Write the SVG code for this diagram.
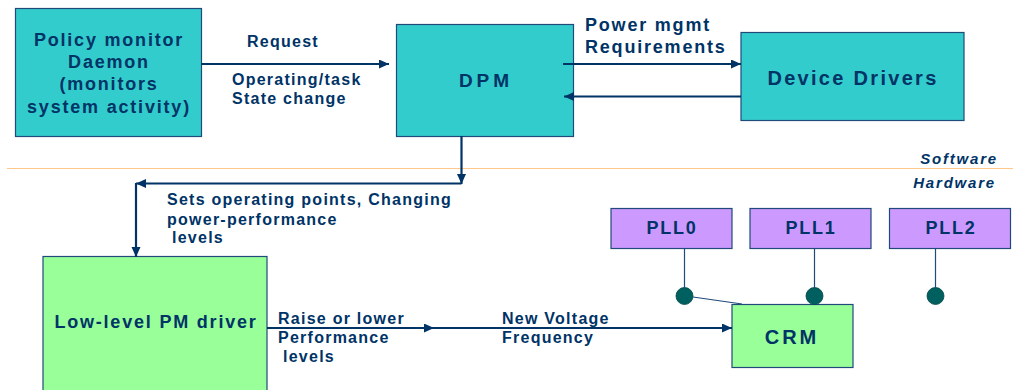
<svg xmlns="http://www.w3.org/2000/svg" width="1013" height="390" viewBox="0 0 1013 390">
<style>
text{font-family:"Liberation Sans",Arial,sans-serif;font-weight:bold;fill:#003366}
.lbl{font-size:16px;letter-spacing:1.25px}
.big{font-size:18px;letter-spacing:1.8px}
.c{text-anchor:middle}
.it{font-style:italic;font-size:15px;letter-spacing:1.8px;text-anchor:end}
.teal{fill:#33CCCC;stroke:#1F4A7A;stroke-width:1.2}
.green{fill:#99FF99;stroke:#1F4A7A;stroke-width:1.2}
.purple{fill:#CC99FF;stroke:#1F4A7A;stroke-width:1.2}
.arr{stroke:#003366;stroke-width:2.2;fill:none;marker-end:url(#ah)}
.thin{stroke:#1F4A7A;stroke-width:1.2;fill:none}
.dot{fill:#006060;stroke:#004848;stroke-width:0.8}
</style>
<defs>
<marker id="ah" markerUnits="userSpaceOnUse" markerWidth="11" markerHeight="10" refX="10" refY="4.5" orient="auto">
<path d="M0,0 L10,4.5 L0,9 z" fill="#003366"/>
</marker>
</defs>
<line x1="7" y1="168.5" x2="1013" y2="168.5" stroke="#FFC88A" stroke-width="1.2"/>
<text class="it" x="998" y="164">Software</text>
<text class="it" x="996" y="188">Hardware</text>
<g id="policy">
<rect class="teal" x="15.5" y="8.5" width="186" height="128"/>
<text class="big c" x="109" y="46">Policy monitor</text>
<text class="big c" x="109" y="68">Daemon</text>
<text class="big c" x="109" y="90">(monitors</text>
<text class="big c" x="109" y="113">system activity)</text>
</g>
<g id="dpm">
<rect class="teal" x="396.5" y="24.5" width="177" height="112"/>
<text class="c" x="486" y="87" style="font-size:19px;letter-spacing:4px">DPM</text>
</g>
<g id="devdrivers">
<rect class="teal" x="741" y="32.5" width="223" height="88"/>
<text class="c" x="853" y="85" style="font-size:20px;letter-spacing:2.3px">Device Drivers</text>
</g>
<g id="lowlevel">
<rect class="green" x="43" y="256.5" width="224" height="140"/>
<text class="big c" x="156" y="328">Low-level PM driver</text>
</g>
<g id="crm">
<rect class="green" x="732" y="304.5" width="121" height="63"/>
<text class="c" x="792" y="344" style="font-size:20px;letter-spacing:3px">CRM</text>
</g>
<g id="pll0">
<rect class="purple" x="611" y="208.5" width="121" height="40"/>
<text class="big c" x="672" y="234">PLL0</text>
<circle class="dot" cx="684.5" cy="296" r="8.5"/>
</g>
<g id="pll1">
<rect class="purple" x="750" y="208.5" width="121" height="40"/>
<text class="big c" x="811" y="234">PLL1</text>
<circle class="dot" cx="814.5" cy="296" r="8.5"/>
</g>
<g id="pll2">
<rect class="purple" x="889.5" y="208.5" width="121" height="40"/>
<text class="big c" x="951" y="234">PLL2</text>
<circle class="dot" cx="935.5" cy="296" r="8.5"/>
</g>
<g id="connectors">
<line class="arr" x1="201" y1="64" x2="389" y2="64"/>
<line class="arr" x1="563" y1="64" x2="741" y2="64"/>
<line class="arr" x1="741" y1="96.5" x2="564" y2="96.5"/>
<line class="arr" x1="461.5" y1="136" x2="461.5" y2="184"/>
<line class="arr" x1="461.5" y1="183.5" x2="136" y2="183.5"/>
<line class="arr" x1="136" y1="183" x2="136" y2="257"/>
<line class="arr" x1="267" y1="328" x2="434" y2="328"/>
<line class="arr" x1="433" y1="328" x2="732" y2="328"/>
<line class="thin" x1="684.5" y1="248.5" x2="684.5" y2="288"/>
<line class="thin" x1="814.5" y1="248.5" x2="814.5" y2="288"/>
<line class="thin" x1="935.5" y1="248.5" x2="935.5" y2="288"/>
<line class="thin" x1="693" y1="297" x2="742" y2="304"/>
</g>
<g id="labels">
<text class="lbl" x="247" y="47">Request</text>
<text class="lbl" x="232" y="85">Operating/task</text>
<text class="lbl" x="232" y="104">State change</text>
<text class="big" x="585" y="31">Power mgmt</text>
<text class="big" x="585" y="53">Requirements</text>
<text class="lbl" x="167" y="205">Sets operating points, Changing</text>
<text class="lbl" x="167" y="225">power-performance</text>
<text class="lbl" x="172" y="243">levels</text>
<text class="lbl" x="278" y="324">Raise or lower</text>
<text class="lbl" x="278" y="343">Performance</text>
<text class="lbl" x="283" y="362">levels</text>
<text class="lbl" x="502" y="324">New Voltage</text>
<text class="lbl" x="502" y="343">Frequency</text>
</g>
</svg>
